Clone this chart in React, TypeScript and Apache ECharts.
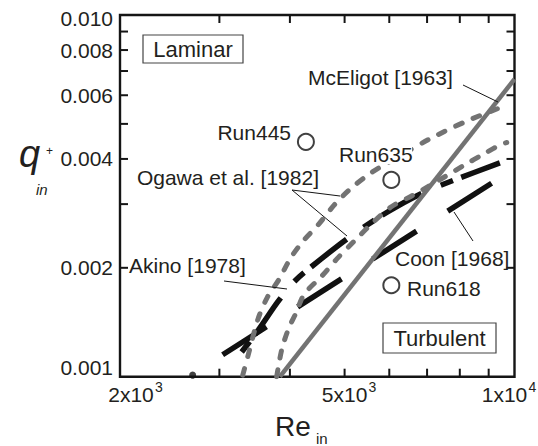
import React, { useEffect, useRef } from "react";
import * as echarts from "echarts";

const FONT = '"Liberation Sans", Arial, Helvetica, sans-serif';
const TXT = "#231f20";
const GRAY = "#737373";

// McEligot [1963] (solid gray)
const mceligotRe = [3840, 10000];
const mceligotQ = [0.001, 0.00665];

// Ogawa et al. [1982] upper curve (gray dashed)
const ogawaUpperRe = [3300, 3380, 3510, 3650, 3820, 4020, 4240, 4490, 4790, 5090, 5570, 6300, 7070, 8160, 9500, 9690];
const ogawaUpperQ = [0.00101, 0.00116, 0.00144, 0.00166, 0.00185, 0.00214, 0.00239, 0.00263, 0.00298, 0.00328, 0.00366, 0.0041, 0.00454, 0.00506, 0.00557, 0.00562];

// Ogawa et al. [1982] lower curve (gray dashed)
const ogawaLowerRe = [3790, 3870, 3980, 4100, 4240, 4560, 4850, 5200, 5600, 6050, 6570, 7160, 8160, 8820, 9500, 9690];
const ogawaLowerQ = [0.001, 0.00119, 0.00136, 0.0015, 0.00169, 0.0019, 0.00212, 0.00237, 0.00266, 0.00295, 0.00316, 0.00341, 0.00385, 0.00413, 0.0044, 0.00444];

// Akino [1978] (black dash / short dash)
const akinoRe = [3230, 3520, 3806, 4070, 4377, 5135, 5927, 6870, 7832, 9420];
const akinoQ = [0.00113, 0.00135, 0.00161, 0.00183, 0.00202, 0.00245, 0.00284, 0.00322, 0.0035, 0.0039];

// Coon [1968] (black long dash)
const coonRe = [3040, 9115];
const coonQ = [0.00115, 0.00343];

// Experimental runs (open circles)
const runNames = ["Run445", "Run635", "Run618"];
const runRe = [4270, 6050, 6050];
const runQ = [0.00446, 0.0035, 0.00179];

// small black dot on the axis
const dotRe = [2690];
const dotQ = [0.00101];

// Axis ticks / labels
const xMin = 2000;
const xMax = 10000;
const yMin = 0.001;
const yMax = 0.01;
const xMinorTicks = [3000, 4000, 5000, 6000, 7000, 8000, 9000];
const yMinorTicks = [0.002, 0.003, 0.004, 0.005, 0.006, 0.007, 0.008, 0.009];
const xLabelValues = [2000, 5000, 10000];
const xLabelMantissa = ["2", "5", "1"];
const xLabelExponent = ["3", "3", "4"];
const yLabelValues = [0.001, 0.002, 0.004, 0.006, 0.008, 0.01];
const yLabelTexts = ["0.001", "0.002", "0.004", "0.006", "0.008", "0.010"];

const zip = (a: number[], b: number[]) => a.map((v, i) => [v, b[i]]);

export default function App() {
  const ref = useRef<HTMLDivElement>(null);
  useEffect(() => {
    document.body.style.margin = "0";
    const chart = echarts.init(ref.current!, null, { renderer: "svg" });
    const hiddenAxis = {
      axisLine: { show: false },
      axisTick: { show: false },
      axisLabel: { show: false },
      splitLine: { show: false },
      minorTick: { show: false },
    };
    chart.setOption({
      animation: false,
      grid: {
        left: 120,
        top: 15,
        width: 394.5,
        height: 361.7,
        show: true,
        borderColor: "#151515",
        borderWidth: 2.4,
        backgroundColor: "transparent",
      },
      xAxis: { type: "log", logBase: 10, min: xMin, max: xMax, ...hiddenAxis },
      yAxis: { type: "log", logBase: 10, min: yMin, max: yMax, ...hiddenAxis },
      series: [
        {
          name: "Coon [1968]",
          type: "line",
          data: zip(coonRe, coonQ),
          symbol: "none",
          z: 2,
          lineStyle: { color: "#111", width: 5.5, type: [52, 37], cap: "butt" },
        },
        {
          name: "Akino [1978]",
          type: "line",
          data: zip(akinoRe, akinoQ),
          symbol: "none",
          smooth: 0.3,
          z: 2,
          lineStyle: { color: "#111", width: 5.5, type: [45, 21, 13, 9], dashOffset: 59, cap: "butt" },
        },
        {
          name: "Ogawa upper",
          type: "line",
          data: zip(ogawaUpperRe, ogawaUpperQ),
          symbol: "none",
          smooth: 0.3,
          z: 3,
          lineStyle: { color: GRAY, width: 5, type: [7, 12], cap: "round" },
        },
        {
          name: "Ogawa lower",
          type: "line",
          data: zip(ogawaLowerRe, ogawaLowerQ),
          symbol: "none",
          smooth: 0.3,
          z: 3,
          lineStyle: { color: GRAY, width: 5, type: [7, 12], cap: "round" },
        },
        {
          name: "McEligot [1963]",
          type: "line",
          data: zip(mceligotRe, mceligotQ),
          symbol: "none",
          z: 4,
          lineStyle: { color: GRAY, width: 4.5, type: "solid" },
        },
        {
          name: "Runs",
          type: "scatter",
          data: zip(runRe, runQ),
          symbol: "circle",
          symbolSize: 16,
          z: 5,
          itemStyle: { color: "#fff", borderColor: "#111", borderWidth: 2 },
        },
        {
          name: "dot",
          type: "scatter",
          data: zip(dotRe, dotQ),
          symbol: "circle",
          symbolSize: 7,
          z: 5,
          itemStyle: { color: "#111" },
        },
      ],
    });

    const toPx = (x: number, y: number) =>
      chart.convertToPixel({ gridIndex: 0 }, [x, y]) as number[];
    const [gx0, gy1] = toPx(xMin, yMin);
    const [gx1, gy0] = toPx(xMax, yMax);
    const T = 8;
    const g: any[] = [];
    const line = (x1: number, y1: number, x2: number, y2: number, w = 2) =>
      g.push({ type: "line", z: 100, shape: { x1, y1, x2, y2 }, style: { stroke: "#151515", lineWidth: w } });
    const text = (t: string, x: number, y: number, size: number, align = "left", extra: any = {}) =>
      g.push({
        type: "text",
        z: 101,
        x,
        y,
        style: { text: t, fontSize: size, fontFamily: FONT, fill: TXT, align, verticalAlign: "middle", ...extra },
      });

    xMinorTicks.forEach((v) => {
      const [x] = toPx(v, yMin);
      line(x, gy1, x, gy1 - T);
      line(x, gy0, x, gy0 + T);
    });
    yMinorTicks.forEach((v) => {
      const [, y] = toPx(xMin, v);
      line(gx0, y, gx0 + T, y);
      line(gx1, y, gx1 - T, y);
    });

    yLabelValues.forEach((v, i) => {
      const [, y] = toPx(xMin, v);
      const yc = Math.min(Math.max(y, gy0 + 3), gy1 - 9);
      text(yLabelTexts[i], 113, yc, 21, "right");
    });
    xLabelValues.forEach((v, i) => {
      const [x] = toPx(v, yMin);
      const cx = Math.min(Math.max(x, gx0 + 11), gx1 - 10);
      text(`${xLabelMantissa[i]}x10`, cx, gy1 + 18, 21, "center");
      text(xLabelExponent[i], cx + 24, gy1 + 10, 14, "left");
    });

    // axis titles
    text("Re", 275, 426, 28, "left");
    text("in", 316, 438, 15, "left");
    text("q", 19, 154, 38, "left", { fontStyle: "italic" });
    text("+", 46, 151, 12, "left");
    text("in", 36, 189, 15, "left", { fontStyle: "italic" });

    // region boxes
    g.push({ type: "rect", z: 100, shape: { x: 143, y: 35, width: 100, height: 28 }, style: { fill: "#fff", stroke: "#444", lineWidth: 1.2 } });
    text("Laminar", 193, 49.5, 22, "center");
    g.push({ type: "rect", z: 100, shape: { x: 383, y: 323, width: 113, height: 30 }, style: { fill: "#fff", stroke: "#444", lineWidth: 1.2 } });
    text("Turbulent", 439.5, 338.5, 22, "center");

    // annotations
    g.push({ type: "rect", z: 100, shape: { x: 338, y: 145, width: 74, height: 19 }, style: { fill: "#fff" } });
    text("McEligot [1963]", 308, 77, 21, "left");
    text("Run445", 291, 132, 21, "right");
    text("Run635", 339, 154, 21, "left");
    text("Ogawa et al. [1982]", 319, 177, 21, "right");
    text("Akino [1978]", 129, 265, 21, "left");
    text("Coon [1968]", 395, 258, 21, "left");
    text("Run618", 407, 288, 21, "left");

    // leader lines
    line(463, 85, 498, 102, 1);
    line(292, 190, 340, 196, 1);
    line(292, 190, 347, 236, 1);
    line(224, 281, 287, 289, 1);
    line(473, 241, 454, 212, 1);

    chart.setOption({ graphic: g });
    return () => chart.dispose();
  }, []);
  return <div ref={ref} style={{ width: 538, height: 446 }} />;
}
